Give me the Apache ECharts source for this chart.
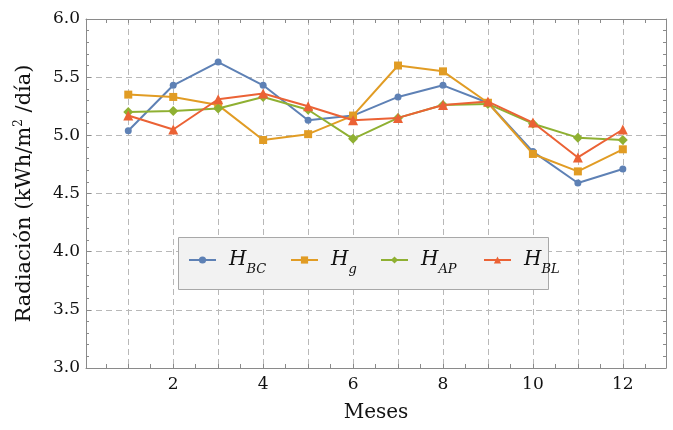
<!DOCTYPE html>
<html>
<head>
<meta charset="utf-8">
<script src="https://cdn.jsdelivr.net/npm/echarts@6/dist/echarts.min.js"></script>
<style>html,body{margin:0;padding:0;background:#fff;}#c{width:673px;height:430px;}</style>
</head>
<body>
<div id="c"></div>
<script>
const months = [1,2,3,4,5,6,7,8,9,10,11,12];
const hBC = [5.04,5.43,5.63,5.43,5.13,5.17,5.33,5.43,5.28,4.86,4.59,4.71];
const hG  = [5.35,5.33,5.26,4.96,5.01,5.17,5.60,5.55,5.28,4.84,4.69,4.88];
const hAP = [5.20,5.21,5.23,5.33,5.22,4.97,5.15,5.26,5.27,5.10,4.98,4.96];
const hBL = [5.17,5.05,5.31,5.36,5.25,5.13,5.15,5.26,5.29,5.11,4.81,5.05];
const xLabels = [2,4,6,8,10,12];
const xTicks = [0.5,1,1.5,2,2.5,3,3.5,4,4.5,5,5.5,6,6.5,7,7.5,8,8.5,9,9.5,10,10.5,11,11.5,12,12.5];
const seriesNames = ['BC','g','AP','BL'];
const seriesVals = [hBC,hG,hAP,hBL];
const colors = ['#5E81B5','#E19C24','#8FB032','#EB6235'];
const symbols = ['circle','rect','diamond','triangle'];
const symSizes = [7,8,10,10];
const legendLeft = [188,290,380,483];

const FONT = 'DejaVu Serif';
const XMIN = 0.06, XMAX = 12.96;
const axisCol = '#8a8a8a';
const gridCol = '#b8b8b8';

const chart = echarts.init(document.getElementById('c'), null, {renderer:'canvas'});

const series = seriesNames.map((n,i)=>({
  name:n, type:'line',
  data: months.map((m,j)=>[m, seriesVals[i][j]]),
  symbol: symbols[i], symbolSize: symSizes[i],
  lineStyle:{color:colors[i], width:2},
  itemStyle:{color:colors[i]},
  z: 2+i, animation:false
}));

const legends = seriesNames.map((n,i)=>({
  data:[n], left: legendLeft[i], top: 250, padding:0, z:10,
  itemWidth: 27, itemHeight: 9,
  formatter: nm => '{h|H}{s|' + nm + '}',
  textStyle:{
    rich:{
      h:{fontFamily:FONT, fontStyle:'italic', fontSize:20, color:'#111', padding:[0,0,0,8]},
      s:{fontFamily:FONT, fontStyle:'italic', fontSize:13, color:'#111', padding:[20,0,0,0]}
    }
  }
}));

chart.setOption({
  animation:false,
  backgroundColor:'#fff',
  grid:{left:86, right:7, top:19, bottom:62, containLabel:false},
  xAxis:[
    {type:'value', min:XMIN, max:XMAX, position:'bottom',
     name:'Meses', nameLocation:'middle', nameGap:35,
     nameTextStyle:{fontFamily:FONT, fontSize:20, color:'#111'},
     axisLine:{show:true, lineStyle:{color:axisCol, width:1}},
     axisTick:{show:true, inside:true, length:4, customValues:xTicks, lineStyle:{color:axisCol}},
     axisLabel:{show:true, customValues:xLabels, fontFamily:FONT, fontSize:17, color:'#111', margin:8},
     splitLine:{show:false}},
    {type:'value', min:XMIN, max:XMAX, position:'bottom',
     axisLine:{show:false},
     axisTick:{show:false, customValues:months},
     axisLabel:{show:false},
     splitLine:{show:true, lineStyle:{color:gridCol, type:[6,4], width:1}}},
    {type:'value', min:XMIN, max:XMAX, position:'top',
     axisLine:{show:true, lineStyle:{color:axisCol, width:1}},
     axisTick:{show:true, inside:true, length:4, customValues:xTicks, lineStyle:{color:axisCol}},
     axisLabel:{show:false},
     splitLine:{show:false}}
  ],
  yAxis:[
    {type:'value', min:3, max:6, interval:0.5, position:'left',
     name:'{a|Radiación (kWh/m}{sup|2}{a| /día)}', nameLocation:'middle', nameGap:50,
     nameTextStyle:{rich:{
       a:{fontFamily:FONT, fontSize:21, color:'#111'},
       sup:{fontFamily:FONT, fontSize:12, color:'#111', padding:[0,0,11,0]}
     }},
     axisLine:{show:true, lineStyle:{color:axisCol, width:1}},
     axisTick:{show:true, inside:true, length:5, lineStyle:{color:axisCol}},
     minorTick:{show:true, splitNumber:5, length:3, lineStyle:{color:axisCol}},
     axisLabel:{fontFamily:FONT, fontSize:17, color:'#111', margin:6, formatter:v=>v.toFixed(1)},
     splitLine:{show:true, lineStyle:{color:gridCol, type:[6,4], width:1}}},
    {type:'value', min:3, max:6, interval:0.5, position:'right',
     axisLine:{show:true, lineStyle:{color:axisCol, width:1}},
     axisTick:{show:true, inside:true, length:5, lineStyle:{color:axisCol}},
     minorTick:{show:true, splitNumber:5, length:3, lineStyle:{color:axisCol}},
     axisLabel:{show:false},
     splitLine:{show:false}}
  ],
  legend: legends,
  graphic:[{type:'rect', left:178, top:237, z:8,
    shape:{width:370, height:52},
    style:{fill:'#f2f2f2', stroke:'#a8a8a8', lineWidth:1}}],
  series: series
});
</script>
</body>
</html>
